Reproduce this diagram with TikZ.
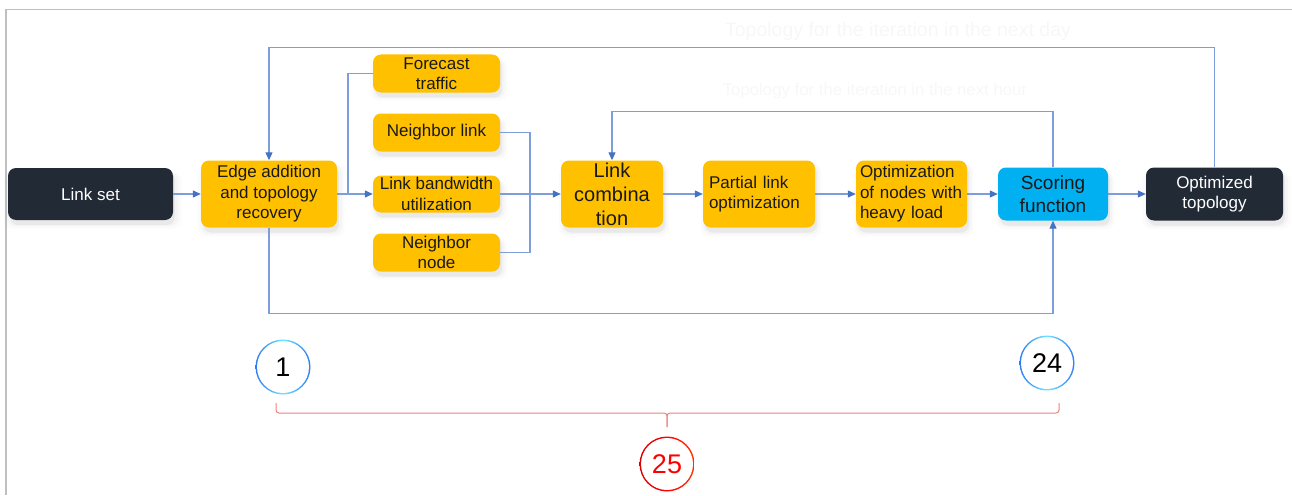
\documentclass[tikz,border=0pt]{standalone}
\usepackage{fontspec}
\setmainfont{Liberation Sans}
\usetikzlibrary{arrows.meta,shadows}

\definecolor{boxyellow}{HTML}{FFC000}
\definecolor{boxblue}{HTML}{00B0F0}
\definecolor{boxdark}{HTML}{222A35}
\definecolor{wire}{HTML}{7D9DDB}
\definecolor{tipblue}{HTML}{4472C4}
\definecolor{ringblue}{HTML}{2F7BF5}
\definecolor{ringcyan}{HTML}{70E4FF}
\definecolor{bracered}{HTML}{F28080}
\definecolor{framegray}{HTML}{BFBFBF}

\newcommand\setfs[2]{\fontsize{#1pt}{#2pt}\selectfont}

\tikzset{
  softshadow/.style={
    drop shadow={opacity=.10, shadow xshift=2pt, shadow yshift=-5pt, shadow scale=1.0},
    drop shadow={opacity=.05, shadow xshift=2pt, shadow yshift=-5pt, shadow scale=1.04},
    drop shadow={opacity=.03, shadow xshift=2pt, shadow yshift=-6pt, shadow scale=1.08}},
  basebox/.style={rounded corners=8pt, inner sep=0pt, align=center, softshadow},
  ybox/.style={basebox, fill=boxyellow, text=black!90, font=\setfs{17}{20.5}},
  dbox/.style={basebox, fill=boxdark, text=white, font=\setfs{17}{20.5}},
  bbox/.style={basebox, fill=boxblue, text=black!90, font=\setfs{19}{23}},
  wireline/.style={draw=wire, line width=1.1pt},
  conn/.style={wireline, -{Triangle[length=8pt,width=7pt,color=tipblue]}},
  numc/.style={circle, minimum size=52pt, inner sep=0pt, font=\setfs{27}{30}},
  brc/.style={draw=bracered, line width=1pt, rounded corners=3pt},
  faint/.style={text=black!3, inner sep=0pt}
}

\begin{document}
\begin{tikzpicture}[x=1pt,y=-1pt]
\useasboundingbox (0,0) rectangle (1292,495);

% page frame
\draw[framegray, line width=1.5pt] (1292,9.5) -- (6,9.5) -- (6,495);

% faint captions of the feedback loops
\node[faint, font=\setfs{19.5}{23}] (tday) at (898,31) {Topology for the iteration in the next day};
\node[faint, font=\setfs{16.8}{20}] (thour) at (875,91) {Topology for the iteration in the next hour};

% main pipeline
\node[dbox, minimum width=165pt, minimum height=52pt] (linkset) at (90.5,194) {Link set};
\node[ybox, minimum width=136pt, minimum height=67pt] (edge) at (269,194) {Edge addition\\and topology\\recovery};

\node[ybox, minimum width=127pt, minimum height=38pt] (fc) at (436.5,73.5) {Forecast\\traffic};
\node[ybox, minimum width=127pt, minimum height=38pt] (nl) at (436.5,132.5) {Neighbor link};
\node[ybox, minimum width=127pt, minimum height=37pt] (bw) at (436.5,194) {Link bandwidth\\utilization};
\node[ybox, minimum width=127pt, minimum height=38pt] (nn) at (436.5,252.5) {Neighbor\\node};

\node[ybox, font=\setfs{20}{24}, minimum width=102pt, minimum height=67pt] (comb) at (612,194) {Link\\combina\\tion};
\node[ybox, align=left, text width=100pt, inner xsep=6pt, minimum height=67pt] (part) at (759,194) {Partial link\\optimization};
\node[ybox, align=left, text width=103pt, inner xsep=4pt, minimum height=67pt] (heavy) at (911.5,194) {Optimization\\of nodes with\\heavy load};

\node[bbox, minimum width=110pt, minimum height=53pt] (score) at (1053,194) {Scoring\\function};
\node[dbox, minimum width=137pt, minimum height=53pt] (opt) at (1214.5,194) {Optimized\\topology};

% connectors
\draw[conn] (linkset) -- (edge);
\draw[conn] (edge) -- (bw);
\coordinate (jfc) at (348,194);
\draw[wireline] (fc.west) -| (jfc);
\draw[conn] (bw) -- (comb);
\coordinate (jnb) at (530,194);
\draw[wireline] (nl.east) -| (jnb);
\draw[wireline] (nn.east) -| (jnb);
\draw[conn] (comb) -- (part);
\draw[conn] (part) -- (heavy);
\draw[conn] (heavy) -- (score);
\draw[conn] (score) -- (opt);

% feedback loops
\draw[conn] (score.north) -- ++(0,-56) -| (comb.north);
\draw[conn] (opt.north) -- ++(0,-120) -| (edge.north);
\draw[conn] (edge.south) -- ++(0,86) -| (score.south);

% numbered markers
\coordinate (p1) at (283,367);
\coordinate (p24) at (1047,363);
\coordinate (p25) at (667,464);
\shade[left color=ringblue, right color=ringblue, middle color=ringcyan] (p1) circle[radius=27.5pt];
\fill[white] (p1) circle[radius=26pt];
\shade[left color=ringblue, right color=ringblue, middle color=ringcyan] (p24) circle[radius=27.5pt];
\fill[white] (p24) circle[radius=26pt];
\shade[left color=red!85!black, right color=red!60!orange, middle color=red] (p25) circle[radius=27.5pt];
\fill[white] (p25) circle[radius=26pt];
\node[numc, text=black] (c1) at (p1) {1};
\node[numc, text=black] (c24) at (p24) {24};
\node[numc, text=red] (c25) at (p25) {25};

% bracket joining the markers
\coordinate (bl) at (276,403);
\coordinate (br) at (1059,403);
\coordinate (bm) at (667,413);
\coordinate (bt) at (667,427);
\draw[brc] (bl) |- (bm) -- (bt);
\draw[brc] (br) |- (bm) -- (bt);
\end{tikzpicture}
\end{document}
